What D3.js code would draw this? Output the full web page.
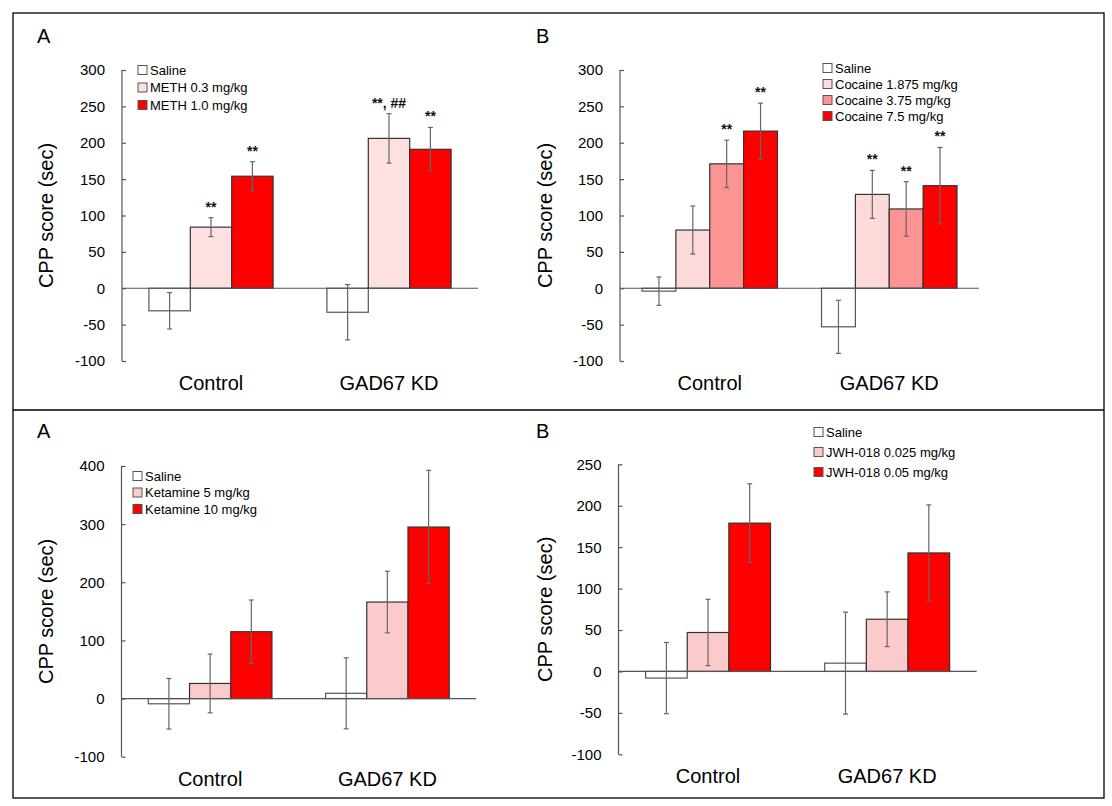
<!DOCTYPE html>
<html>
<head>
<meta charset="utf-8">
<script src="https://cdn.jsdelivr.net/npm/d3@7"></script>
<style>
  html, body { margin: 0; padding: 0; background: #fff; }
  svg { display: block; font-family: Arial, "Liberation Sans", sans-serif; }
</style>
</head>
<body>
<svg id="chart" width="1112" height="806"></svg>
<script>
// ---------------- DATA ----------------
const categories = ["Control", "GAD67 KD"];

// Panel A (top-left) – METH
const methSeries = ["Saline", "METH 0.3 mg/kg", "METH 1.0 mg/kg"];
const methMeans  = [[-31, 84, 154], [-33, 206, 191]];
const methErrors = [[25, 13, 20], [38, 34, 30]];
const methMarks  = [["", "**", "**"], ["", "**, ##", "**"]];
const methTicks  = [-100, -50, 0, 50, 100, 150, 200, 250, 300];

// Panel B (top-right) – Cocaine
const cocSeries = ["Saline", "Cocaine 1.875 mg/kg", "Cocaine 3.75 mg/kg", "Cocaine 7.5 mg/kg"];
const cocMeans  = [[-4, 80, 171, 216], [-53, 129, 109, 141]];
const cocErrors = [[19.5, 33, 32.5, 38.5], [36.5, 33, 37.5, 52.5]];
const cocMarks  = [["", "", "**", "**"], ["", "**", "**", "**"]];
const cocTicks  = [-100, -50, 0, 50, 100, 150, 200, 250, 300];

// Panel A (bottom-left) – Ketamine
const ketSeries = ["Saline", "Ketamine 5 mg/kg", "Ketamine 10 mg/kg"];
const ketMeans  = [[-9, 26, 115], [9, 166, 295]];
const ketErrors = [[43.5, 50.5, 54.5], [61, 53, 97.5]];
const ketTicks  = [-100, 0, 100, 200, 300, 400];

// Panel B (bottom-right) – JWH-018
const jwhSeries = ["Saline", "JWH-018 0.025 mg/kg", "JWH-018 0.05 mg/kg"];
const jwhMeans  = [[-8, 47, 179], [10, 63, 143]];
const jwhErrors = [[43, 40, 47.5], [61.5, 33, 58]];
const jwhTicks  = [-100, -50, 0, 50, 100, 150, 200, 250];

const yTitle = "CPP score (sec)";

// ---------------- STYLE / LAYOUT ----------------
const colors3 = ["#ffffff", "#fde0e0", "#ff0000"];
const colorsCoc = ["#ffffff", "#fddada", "#fc9494", "#ff0000"];
const colorsKet = ["#ffffff", "#fbcaca", "#ff0000"];

const panels = [
  { letter: "A", letterX: 37, letterY: 43, titleX: 46,
    series: methSeries, means: methMeans, errors: methErrors, marks: methMarks, ticks: methTicks, colors: colors3,
    axisX: 122, xEnd: 478, yTop: 70, yBot: 361,
    legX: 138, legY: [70, 87.5, 105] },
  { letter: "B", letterX: 536, letterY: 43, titleX: 545,
    series: cocSeries, means: cocMeans, errors: cocErrors, marks: cocMarks, ticks: cocTicks, colors: colorsCoc,
    axisX: 620, xEnd: 979, yTop: 70, yBot: 361,
    legX: 823, legY: [68, 84, 100, 116] },
  { letter: "A", letterX: 37, letterY: 438, titleX: 46,
    series: ketSeries, means: ketMeans, errors: ketErrors, marks: null, ticks: ketTicks, colors: colorsKet,
    axisX: 121.5, xEnd: 476, yTop: 466, yBot: 756.7,
    legX: 133, legY: [476, 492.5, 509] },
  { letter: "B", letterX: 536, letterY: 438, titleX: 545,
    series: jwhSeries, means: jwhMeans, errors: jwhErrors, marks: null, ticks: jwhTicks, colors: colorsKet,
    axisX: 618.5, xEnd: 976.7, yTop: 464.3, yBot: 754.3,
    legX: 814, legY: [432, 452, 472] }
];

const svg = d3.select("#chart");

// frame
svg.append("rect").attr("x", 13).attr("y", 13).attr("width", 1091).attr("height", 785)
  .attr("fill", "none").attr("stroke", "#000").attr("stroke-width", 1.3);
svg.append("line").attr("x1", 13).attr("x2", 1104).attr("y1", 410).attr("y2", 410)
  .attr("stroke", "#000").attr("stroke-width", 1.3);

const axisColor = "#555";
const errColor = "#666";

panels.forEach(p => {
  const g = svg.append("g");
  const ext = d3.extent(p.ticks);
  const y = d3.scaleLinear().domain(ext).range([p.yBot, p.yTop]);
  const x0 = d3.scaleBand().domain(categories).range([p.axisX, p.xEnd]).padding(0);
  const n = p.series.length;
  const bw = x0.bandwidth();
  const barW = bw / (n + 1.3);
  const groupW = barW * n;
  const x1 = d3.scaleBand().domain(p.series)
    .range([(bw - groupW) / 2, (bw + groupW) / 2]).padding(0);

  // y axis (ticks inward)
  const yAxis = d3.axisRight(y).tickValues(p.ticks).tickSize(4).tickFormat("");
  const ya = g.append("g").attr("transform", `translate(${p.axisX},0)`).call(yAxis);
  ya.select(".domain").attr("stroke", axisColor).attr("stroke-width", 1.2)
    .attr("d", `M0,${y(ext[0])}V${y(ext[1])}`);
  ya.selectAll(".tick line").attr("stroke", axisColor).attr("stroke-width", 1.2);
  // tick labels
  g.selectAll(".ylab").data(p.ticks).enter().append("text")
    .attr("x", p.axisX - 17).attr("y", d => y(d)).attr("dy", "0.36em")
    .attr("text-anchor", "end").attr("font-size", 15).attr("fill", "#000")
    .text(d => d);

  // bars
  categories.forEach((cat, ci) => {
    const cg = g.append("g").attr("transform", `translate(${x0(cat)},0)`);
    p.series.forEach((s, si) => {
      const v = p.means[ci][si];
      cg.append("rect")
        .attr("x", x1(s)).attr("width", x1.bandwidth())
        .attr("y", y(Math.max(0, v))).attr("height", Math.abs(y(v) - y(0)))
        .attr("fill", p.colors[si]).attr("stroke", si === 0 ? "#555" : "#333").attr("stroke-width", 1.2);
    });
  });

  // zero line (x axis)
  const xAxis = d3.axisBottom(x0).tickSize(0).tickFormat("");
  const xa = g.append("g").attr("transform", `translate(0,${y(0)})`).call(xAxis);
  xa.select(".domain").attr("stroke", axisColor).attr("stroke-width", 1.2)
    .attr("d", `M${p.axisX},0H${p.xEnd}`);

  // error bars + significance marks
  categories.forEach((cat, ci) => {
    p.series.forEach((s, si) => {
      const v = p.means[ci][si], e = p.errors[ci][si];
      const cx = x0(cat) + x1(s) + x1.bandwidth() / 2;
      g.append("line").attr("x1", cx).attr("x2", cx).attr("y1", y(v - e)).attr("y2", y(v + e))
        .attr("stroke", errColor).attr("stroke-width", 1.2);
      [v - e, v + e].forEach(t => {
        g.append("line").attr("x1", cx - 2.5).attr("x2", cx + 2.5).attr("y1", y(t)).attr("y2", y(t))
          .attr("stroke", errColor).attr("stroke-width", 1.2);
      });
      if (p.marks && p.marks[ci][si]) {
        g.append("text").attr("x", cx).attr("y", y(v + e) - 6)
          .attr("text-anchor", "middle").attr("font-size", 14).attr("font-weight", "bold").attr("fill", "#111")
          .text(p.marks[ci][si]);
      }
    });
  });

  // category labels
  categories.forEach(cat => {
    g.append("text").attr("x", x0(cat) + bw / 2).attr("y", p.yBot + 29)
      .attr("text-anchor", "middle").attr("font-size", 20).attr("fill", "#000").text(cat);
  });

  // y title
  g.append("text")
    .attr("transform", `translate(${p.titleX},${(p.yTop + p.yBot) / 2}) rotate(-90)`)
    .attr("text-anchor", "middle").attr("dy", "0.35em")
    .attr("font-size", 20).attr("fill", "#000").text(yTitle);

  // panel letter
  g.append("text").attr("x", p.letterX).attr("y", p.letterY)
    .attr("font-size", 20).attr("fill", "#000").text(p.letter);

  // legend
  p.series.forEach((s, si) => {
    const ly = p.legY[si];
    g.append("rect").attr("x", p.legX).attr("y", ly - 4.5).attr("width", 9).attr("height", 9)
      .attr("fill", p.colors[si]).attr("stroke", "#555").attr("stroke-width", 1);
    g.append("text").attr("x", p.legX + 12).attr("y", ly).attr("dy", "0.36em")
      .attr("font-size", 13).attr("fill", "#000").text(s);
  });
});
</script>
</body>
</html>
